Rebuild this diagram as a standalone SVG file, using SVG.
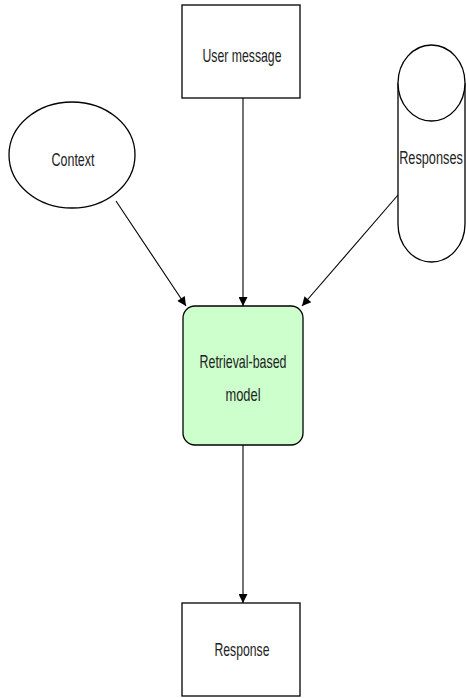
<svg xmlns="http://www.w3.org/2000/svg" width="466" height="698" viewBox="0 0 466 698">
<defs>
<style>
.s{fill:#fff;stroke:#000;stroke-width:1.3}
.t{font-family:"Liberation Sans",Arial,sans-serif;font-size:19px;fill:#222;text-anchor:middle}
.c{stroke:#000;stroke-width:1.1;fill:none;marker-end:url(#a)}
</style>
<marker id="a" viewBox="0 0 10 10" refX="10" refY="5" markerWidth="12" markerHeight="9" orient="auto" markerUnits="userSpaceOnUse"><path d="M0,0 L10,5 L0,10 Z" fill="#000"/></marker>
</defs>
<rect width="466" height="698" fill="#fff"/>
<g id="connectors">
<line class="c" x1="243" y1="98" x2="243" y2="306"/>
<line class="c" x1="116" y1="201" x2="186" y2="306"/>
<line class="c" x1="398" y1="195" x2="302" y2="306"/>
<line class="c" x1="243" y1="445" x2="243" y2="603"/>
</g>
<g id="user-message">
<rect class="s" x="182" y="5" width="118" height="93"/>
<text class="t" x="242" y="62" textLength="79" lengthAdjust="spacingAndGlyphs">User message</text>
</g>
<g id="context">
<ellipse class="s" cx="72" cy="155" rx="63" ry="53"/>
<text class="t" x="73" y="166" textLength="43" lengthAdjust="spacingAndGlyphs">Context</text>
</g>
<g id="responses">
<path class="s" d="M398,83 A33.5,38 0 0 1 465,83 L465,224 A33.5,38 0 0 1 398,224 Z"/>
<path class="s" d="M398,83 A33.5,38 0 0 0 465,83" fill="none"/>
<text class="t" transform="translate(431,164) scale(0.67,1)" x="0" y="0">Responses</text>
</g>
<g id="model">
<rect x="183" y="306" width="120" height="139" rx="12" fill="#ccffcc" stroke="#000" stroke-width="1.3"/>
<text class="t" x="243" y="368" textLength="87" lengthAdjust="spacingAndGlyphs">Retrieval-based</text>
<text class="t" x="243" y="401" textLength="35" lengthAdjust="spacingAndGlyphs">model</text>
</g>
<g id="response">
<rect class="s" x="182" y="603" width="118" height="93"/>
<text class="t" x="242" y="656" textLength="55" lengthAdjust="spacingAndGlyphs">Response</text>
</g>
</svg>
